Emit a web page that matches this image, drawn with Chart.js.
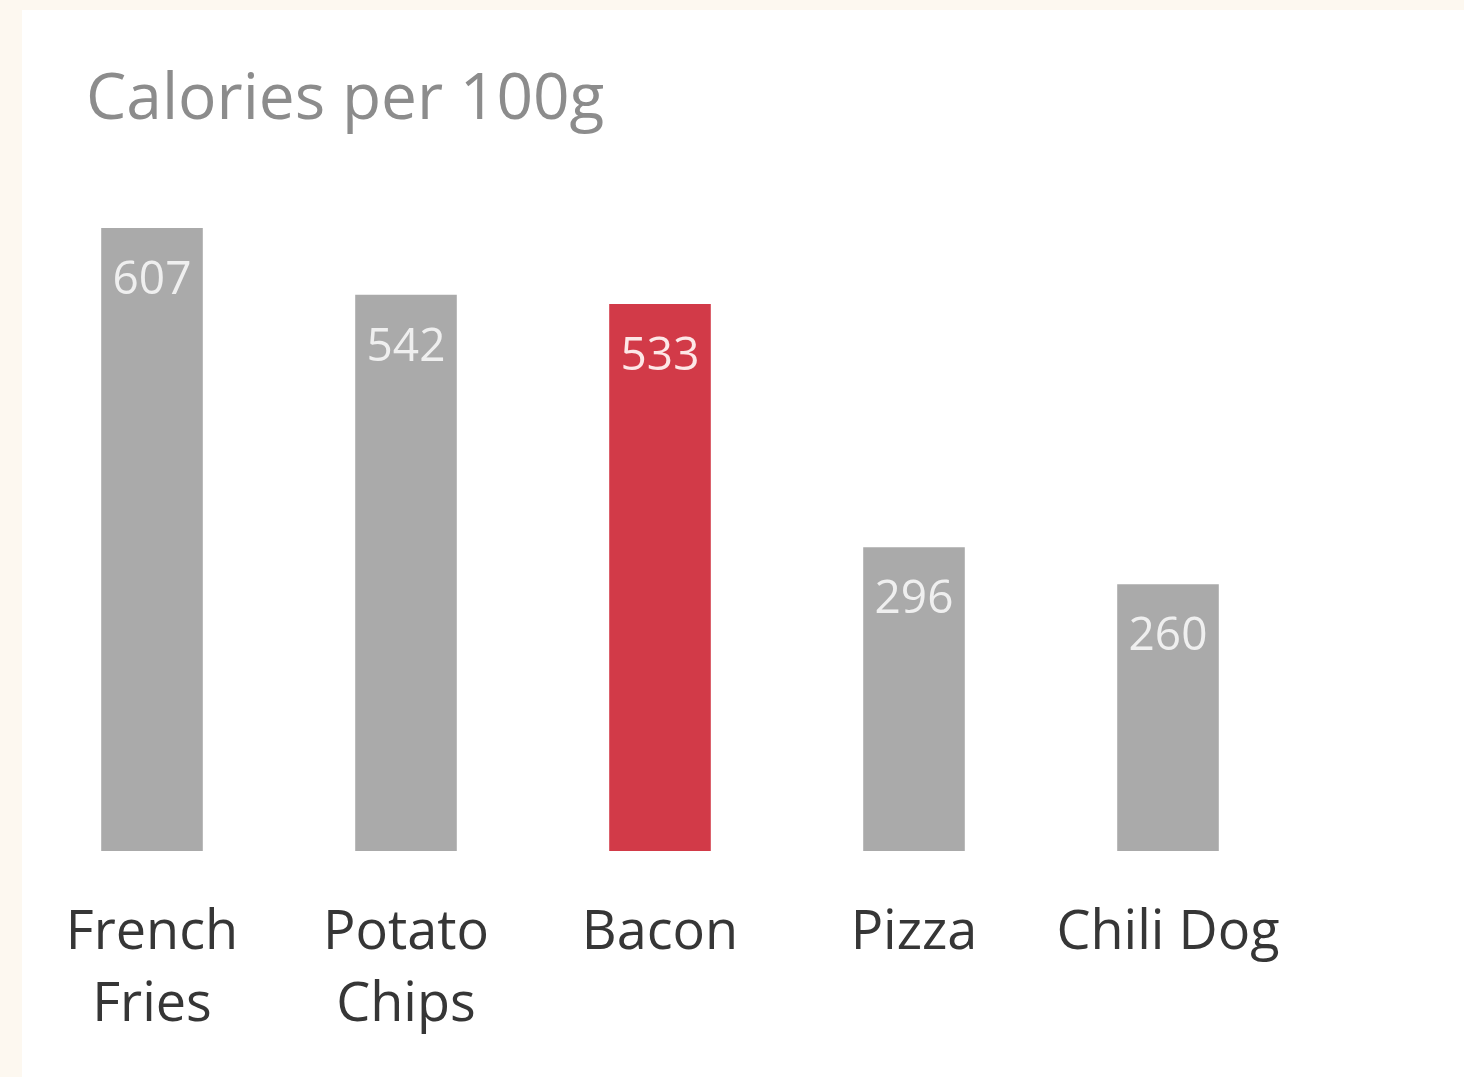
<!DOCTYPE html>
<html>
<head>
<meta charset="utf-8">
<script src="https://cdn.jsdelivr.net/npm/chart.js@4.4.1/dist/chart.umd.min.js"></script>
<style>
  html, body { margin: 0; padding: 0; background: #fdf8f0; width: 1464px; height: 1077px; overflow: hidden; }
  #panel { position: absolute; left: 22px; top: 10px; width: 1442px; height: 1067px; background: #ffffff; }
  canvas { display: block; }
</style>
</head>
<body>
<div id="panel"><canvas id="c" width="1442" height="1067"></canvas></div>
<script>
const titleText = "Calories per 100g";
const categories = [["French", "Fries"], ["Potato", "Chips"], "Bacon", "Pizza", "Chili Dog"];
const calories = [607, 542, 533, 296, 260];
const barColors = ["#aaaaaa", "#aaaaaa", "#d23a48", "#aaaaaa", "#aaaaaa"];

const FONT = "'Open Sans', 'Noto Sans', sans-serif";

const titlePlugin = {
  id: 'customTitle',
  afterDraw(chart) {
    const ctx = chart.ctx;
    ctx.save();
    ctx.font = "64px " + FONT;
    ctx.fillStyle = "#8c8c8c";
    ctx.textAlign = "left";
    ctx.textBaseline = "alphabetic";
    ctx.fillText(titleText, 64, 109);
    ctx.restore();
  }
};

const valueLabels = {
  id: 'valueLabels',
  afterDatasetsDraw(chart) {
    const ctx = chart.ctx;
    const meta = chart.getDatasetMeta(0);
    ctx.save();
    ctx.font = "46px " + FONT;
    ctx.textAlign = "center";
    ctx.textBaseline = "middle";
    meta.data.forEach((bar, i) => {
      ctx.fillStyle = i === 2 ? "rgba(255,240,240,0.95)" : "rgba(245,245,245,0.92)";
      ctx.fillText(String(calories[i]), bar.x, bar.y + 53);
    });
    ctx.restore();
  }
};

new Chart(document.getElementById('c'), {
  type: 'bar',
  data: {
    labels: categories,
    datasets: [{
      data: calories,
      backgroundColor: barColors,
      borderWidth: 0,
      barPercentage: 0.4,
      categoryPercentage: 1.0
    }]
  },
  options: {
    responsive: false,
    devicePixelRatio: 1,
    animation: false,
    layout: { padding: { left: 3, right: 169, top: 122.5, bottom: 0 } },
    plugins: { legend: { display: false }, tooltip: { enabled: false }, title: { display: false } },
    scales: {
      x: {
        grid: { display: false, drawTicks: false },
        border: { display: false },
        ticks: {
          color: "#363636",
          font: { family: FONT, size: 54, lineHeight: 1.333 },
          padding: 47,
          maxRotation: 0,
          autoSkip: false
        },
        afterFit(scale) {
          scale.height = 226;
          scale.paddingLeft = 0;
          scale.paddingRight = 0;
        }
      },
      y: {
        display: false,
        min: 0,
        max: 700
      }
    }
  },
  plugins: [titlePlugin, valueLabels]
});
</script>
</body>
</html>
